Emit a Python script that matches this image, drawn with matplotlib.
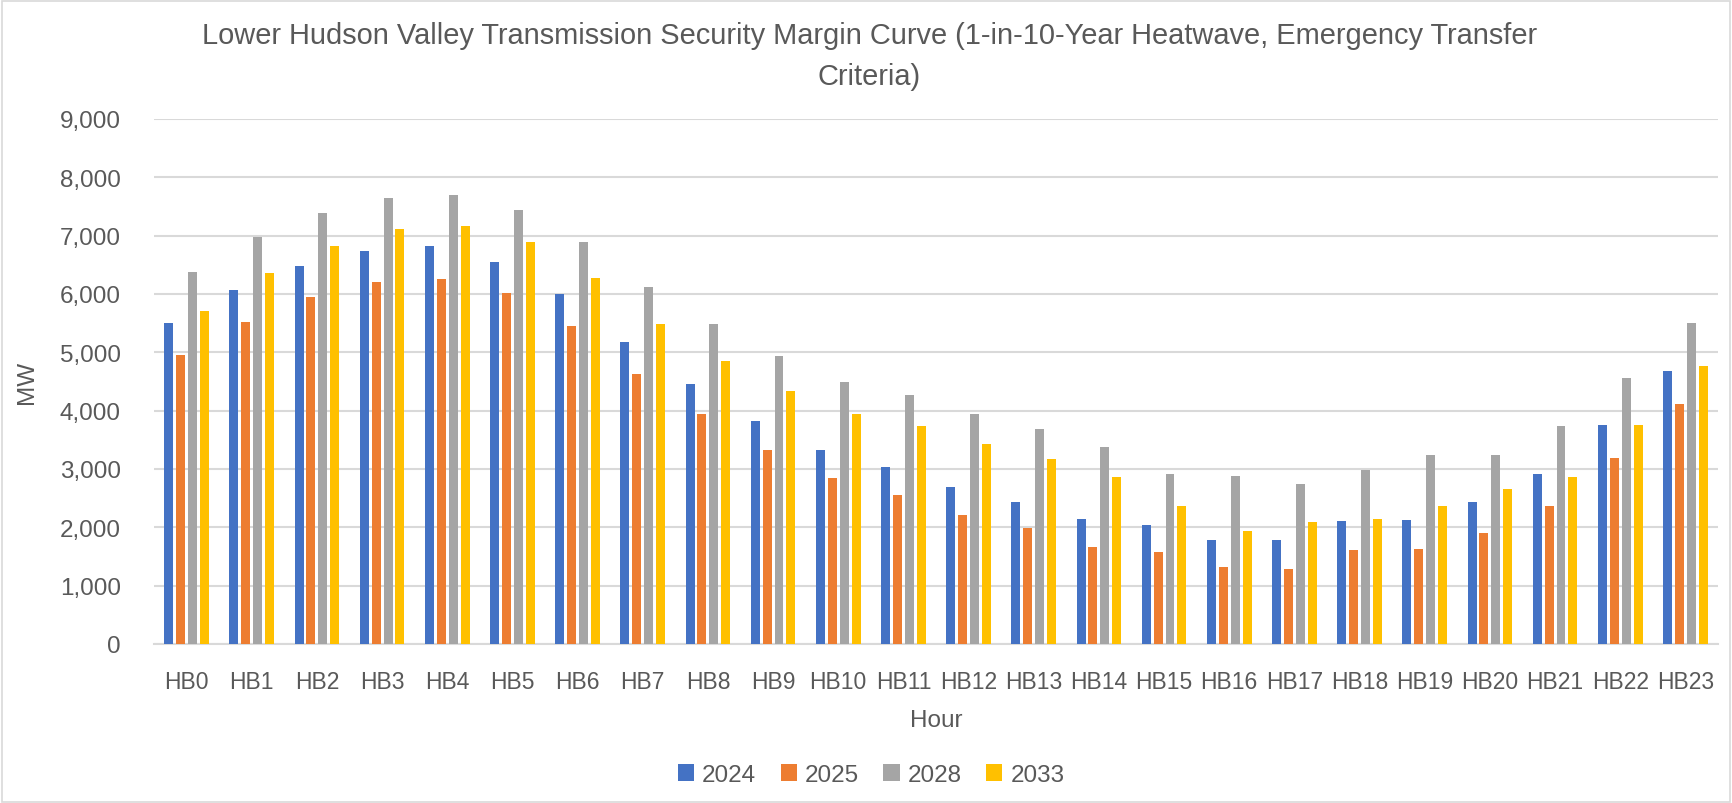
import matplotlib
matplotlib.use("Agg")
import matplotlib.pyplot as plt
import numpy as np
from matplotlib.patches import Rectangle
from matplotlib.ticker import FuncFormatter

# values (MW)
hours = ["HB" + str(i) for i in range(24)]
years = ["2024", "2025", "2028", "2033"]
mw_2024 = [5505, 6076, 6475, 6732, 6818, 6554, 5996, 5175, 4457, 3820, 3323, 3035,
           2698, 2440, 2140, 2042, 1778, 1778, 2103, 2121, 2440, 2912, 3746, 4678]
mw_2025 = [4954, 5524, 5947, 6205, 6254, 6021, 5451, 4635, 3942, 3323, 2839, 2557,
           2219, 1986, 1668, 1570, 1312, 1288, 1606, 1625, 1907, 2360, 3188, 4120]
mw_2028 = [6376, 6971, 7388, 7646, 7701, 7443, 6891, 6125, 5487, 4936, 4494, 4261,
           3942, 3685, 3372, 2912, 2876, 2735, 2974, 3231, 3231, 3728, 4555, 5506]
mw_2033 = [5702, 6358, 6818, 7106, 7167, 6891, 6278, 5487, 4850, 4335, 3942, 3728,
           3427, 3170, 2857, 2360, 1944, 2085, 2140, 2360, 2655, 2857, 3746, 4758]
series = [mw_2024, mw_2025, mw_2028, mw_2033]
colors = ["#4472C4", "#ED7D31", "#A5A5A5", "#FFC000"]

txt = "#595959"
grid = "#D9D9D9"
plt.rcParams["font.family"] = ["Liberation Sans", "DejaVu Sans"]

fig = plt.figure(figsize=(17.32, 8.04), dpi=100)
ax = fig.add_axes([0.0889, 0.1978, 0.903, 0.6530])

x = np.arange(len(hours))
pitch = 0.1825
for i, vals in enumerate(series):
    ax.bar(x + (i - 1.5) * pitch, vals, width=0.138, color=colors[i],
           label=years[i], zorder=3)

ax.set_xlim(-0.5, len(hours) - 0.5)
ax.set_ylim(0, 9000)
ax.set_yticks(np.arange(0, 9001, 1000))
ax.yaxis.set_major_formatter(FuncFormatter(lambda v, p: f"{int(v):,}"))
ax.set_xticks(x)
ax.set_xticklabels(hours)
ax.grid(axis="y", color=grid, linewidth=1.5, zorder=0)
for s in ["top", "right", "left"]:
    ax.spines[s].set_visible(False)
ax.spines["bottom"].set_color(grid)
ax.spines["bottom"].set_linewidth(1.5)
ax.tick_params(axis="both", length=0, labelcolor=txt)
ax.tick_params(axis="y", pad=24, labelsize=17.5)
ax.tick_params(axis="x", pad=19, labelsize=16.5)

ax.set_xlabel("Hour", fontsize=17.5, color=txt)
ax.xaxis.set_label_coords(0.5, -0.123)
ax.set_ylabel("MW", fontsize=17.5, color=txt)
ax.yaxis.set_label_coords(-0.074, 0.5)

fig.text(0.502, 1 - 36 / 804, "Lower Hudson Valley Transmission Security Margin Curve (1-in-10-Year Heatwave, Emergency Transfer",
         ha="center", va="center", fontsize=20.9, color=txt)
fig.text(0.502, 1 - 77 / 804, "Criteria)", ha="center", va="center", fontsize=20.9, color=txt)

fig.legend(loc="center", bbox_to_anchor=(0.503, 1 - 776 / 804), ncol=4, frameon=False,
           fontsize=17.5, labelcolor=txt, handlelength=0.67, handleheight=0.67,
           handletextpad=0.33, columnspacing=1.0)

fig.patches.append(Rectangle((0.001, 0.001), 0.998, 0.997, transform=fig.transFigure,
                             fill=False, edgecolor=grid, linewidth=1.2))

fig.savefig("out.png", dpi=100, facecolor="white")
